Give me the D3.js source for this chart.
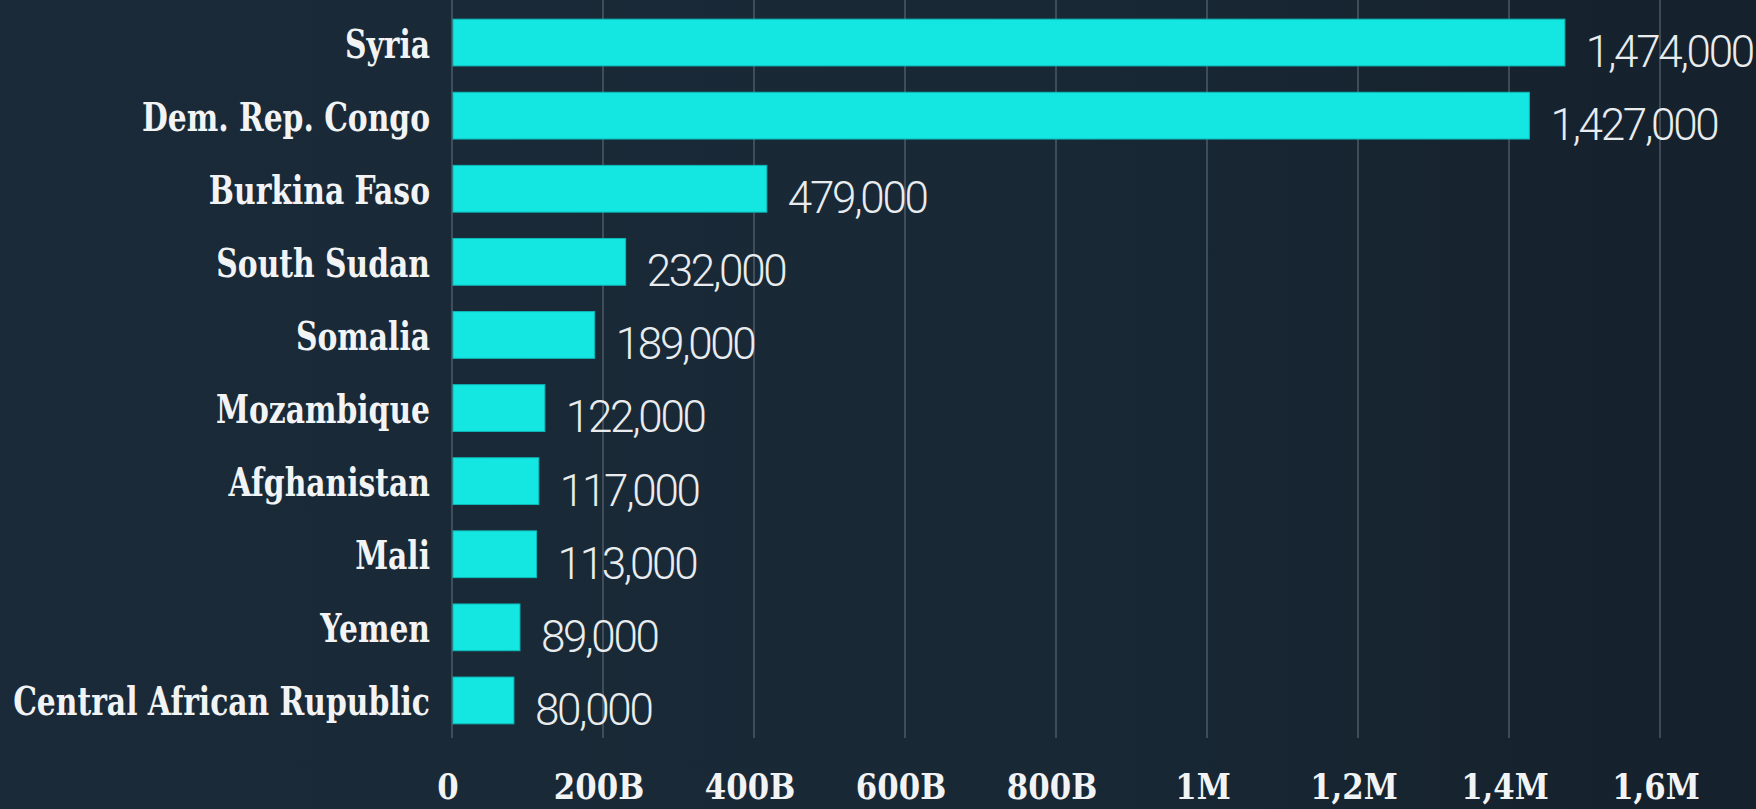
<!DOCTYPE html>
<html>
<head>
<meta charset="utf-8">
<script src="https://cdn.jsdelivr.net/npm/d3@7"></script>
<style>
  html, body { margin: 0; padding: 0; background: #172532; overflow: hidden; }
  svg { display: block; }
</style>
</head>
<body>
<div id="chart"></div>
<script>
const countries = ["Syria", "Dem. Rep. Congo", "Burkina Faso", "South Sudan", "Somalia",
    "Mozambique", "Afghanistan", "Mali", "Yemen", "Central African Rupublic"];
// bar lengths as drawn in the picture (Burkina Faso's bar is shorter than its label)
const barValues = [1474000, 1427000, 417000, 230000, 189000, 123000, 115000, 112000, 90000, 82000];
// labels printed next to the bars
const valueLabels = ["1,474,000", "1,427,000", "479,000", "232,000", "189,000",
    "122,000", "117,000", "113,000", "89,000", "80,000"];
const tickValues = [0, 200000, 400000, 600000, 800000, 1000000, 1200000, 1400000, 1600000];
const tickLabels = ["0", "200B", "400B", "600B", "800B", "1M", "1,2M", "1,4M", "1,6M"];

const width = 1756;
const height = 809;

const data = countries.map((c, i) => ({ country: c, value: barValues[i], label: valueLabels[i] }));

const svg = d3.select("#chart")
    .append("svg")
    .attr("width", width)
    .attr("height", height);

// background, a bit lighter on the left
const grad = svg.append("defs").append("linearGradient")
    .attr("id", "bg").attr("x1", "0").attr("x2", "1").attr("y1", "0").attr("y2", "0");
grad.append("stop").attr("offset", "0").attr("stop-color", "#1a2a38");
grad.append("stop").attr("offset", "0.6").attr("stop-color", "#182835");
grad.append("stop").attr("offset", "1").attr("stop-color", "#15212c");
svg.append("rect").attr("width", width).attr("height", height).attr("fill", "url(#bg)");

const x = d3.scaleLinear()
    .domain([0, 1600000])
    .range([452, 1660]);

const y = d3.scaleBand()
    .domain(countries)
    .range([6, 737])
    .paddingInner(0.36)
    .paddingOuter(0.18);

// vertical grid lines
svg.append("g")
    .selectAll("line")
    .data(tickValues)
    .enter()
    .append("line")
    .attr("x1", d => x(d))
    .attr("x2", d => x(d))
    .attr("y1", 0)
    .attr("y2", 738)
    .attr("stroke", "#8d9aa6")
    .attr("stroke-opacity", 0.45)
    .attr("stroke-width", 1.5);

// bars
svg.append("g")
    .selectAll("rect")
    .data(data)
    .enter()
    .append("rect")
    .attr("x", x(0) + 1)
    .attr("y", d => y(d.country))
    .attr("width", d => x(d.value) - x(0) - 1)
    .attr("height", y.bandwidth())
    .attr("fill", "#14e6e2")
    .attr("stroke", "#0fb8b8")
    .attr("stroke-width", 1);

// value labels
svg.append("g")
    .selectAll("text")
    .data(data)
    .enter()
    .append("text")
    .attr("x", d => x(d.value) + 21)
    .attr("y", d => y(d.country) + y.bandwidth() + 1)
    .text(d => d.label)
    .style("font-family", "Roboto, 'Open Sans', sans-serif")
    .style("font-weight", 300)
    .style("font-size", "44px")
    .style("letter-spacing", "-2.3px")
    .attr("fill", "#e9ecee");

// country labels, squeezed horizontally like the condensed slab font
const labels = svg.append("g")
    .selectAll("g")
    .data(data)
    .enter()
    .append("g")
    .attr("transform", d => `translate(430, ${y(d.country) + y.bandwidth() / 2 + 15})`);
labels.append("text")
    .attr("text-anchor", "end")
    .text(d => d.country)
    .style("font-family", "'DejaVu Serif', serif")
    .style("font-weight", "bold")
    .style("font-size", "40px")
    .attr("fill", "#f2f3f4");
let maxW = 0;
labels.selectAll("text").each(function () { maxW = Math.max(maxW, this.getComputedTextLength()); });
const k = 417 / maxW;
labels.select("text").attr("transform", `scale(${k},1)`);

// x tick labels
svg.append("g")
    .selectAll("g")
    .data(tickValues)
    .enter()
    .append("g")
    .attr("transform", d => `translate(${x(d) - 4}, 799)`)
    .append("text")
    .attr("text-anchor", "middle")
    .attr("transform", "scale(0.88,1)")
    .text((d, i) => tickLabels[i])
    .style("font-family", "'DejaVu Serif', serif")
    .style("font-weight", "bold")
    .style("font-size", "35px")
    .attr("fill", "#f2f3f4");
</script>
</body>
</html>
